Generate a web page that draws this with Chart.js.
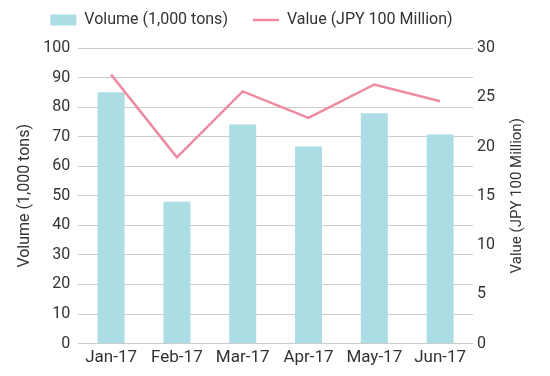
<!DOCTYPE html>
<html>
<head>
<meta charset="utf-8">
<script src="https://cdn.jsdelivr.net/npm/chart.js@4"></script>
<style>
  html, body { margin: 0; padding: 0; background: #fff; }
  #wrap { width: 550px; height: 376px; }
</style>
</head>
<body>
<div id="wrap"><canvas id="chart"></canvas></div>
<script>
const months = ['Jan-17', 'Feb-17', 'Mar-17', 'Apr-17', 'May-17', 'Jun-17'];
const volume = [85, 48, 74.1, 66.7, 77.9, 70.7];
const value = [27.3, 18.9, 25.6, 22.9, 26.3, 24.6];

const rightTitle = 'Value (JPY 100 Million)';

Chart.defaults.font.family = 'Roboto, sans-serif';
Chart.defaults.color = '#333';

// right axis title reads bottom-to-top in the original, Chart.js turns it the other way
const rightTitlePlugin = {
  id: 'rightTitle',
  afterInit(chart) {
    // legend sits a bit left and up compared to Chart.js default placement
    const legend = chart.legend;
    const draw = legend.draw;
    legend.draw = function (area) {
      const box = { left: this.left, right: this.right, top: this.top };
      this.left -= 26;
      this.right -= 26;
      this.top -= 17;
      draw.call(this, area);
      Object.assign(this, box);
    };
  },
  afterDraw(chart) {
    const scale = chart.scales.y1;
    const ctx = chart.ctx;
    const x = scale.right - 24;
    const y = (chart.chartArea.top + chart.chartArea.bottom) / 2;
    ctx.save();
    ctx.translate(x, y);
    ctx.rotate(-Math.PI / 2);
    ctx.font = '15px Roboto, sans-serif';
    ctx.fillStyle = '#333';
    ctx.textAlign = 'center';
    ctx.textBaseline = 'middle';
    ctx.fillText(rightTitle, 0, 0);
    ctx.restore();
  }
};

new Chart(document.getElementById('chart'), {
  data: {
    labels: months,
    datasets: [
      {
        type: 'line',
        label: 'Value (JPY 100 Million)',
        data: value,
        yAxisID: 'y1',
        borderColor: '#ee8aa1',
        backgroundColor: '#ee8aa1',
        borderWidth: 2.5,
        pointRadius: 0,
        pointStyle: 'line',
        tension: 0,
        order: 0
      },
      {
        type: 'bar',
        label: 'Volume (1,000 tons)',
        data: volume,
        yAxisID: 'y',
        backgroundColor: '#acdce4',
        borderWidth: 0,
        pointStyle: 'rect',
        categoryPercentage: 0.82,
        barPercentage: 0.5,
        order: 1
      }
    ]
  },
  options: {
    responsive: true,
    maintainAspectRatio: false,
    animation: false,
    layout: { padding: { left: 14, right: 9, top: 4, bottom: 4 } },
    scales: {
      x: {
        grid: { display: false, drawTicks: false },
        border: { display: false },
        ticks: { padding: 4, font: { size: 17 } }
      },
      y: {
        position: 'left',
        min: 0,
        max: 100,
        ticks: { stepSize: 10, padding: 8, font: { size: 16 } },
        grid: { color: '#cccccc', drawTicks: false },
        border: { display: false },
        title: { display: true, text: 'Volume (1,000 tons)', font: { size: 16 }, padding: 1 }
      },
      y1: {
        position: 'right',
        min: 0,
        max: 30,
        ticks: { stepSize: 5, padding: 4, font: { size: 16 } },
        grid: { display: false, drawTicks: false },
        border: { display: false },
        title: { display: true, text: rightTitle, color: 'rgba(0,0,0,0)', font: { size: 15 }, padding: 12 }
      }
    },
    plugins: {
      legend: {
        position: 'top',
        reverse: true,
        maxHeight: 44,
        labels: {
          usePointStyle: true,
          pointStyleWidth: 26,
          boxHeight: 11,
          padding: 25,
          font: { size: 16 }
        }
      },
      tooltip: { enabled: false }
    }
  },
  plugins: [rightTitlePlugin]
});
</script>
</body>
</html>
